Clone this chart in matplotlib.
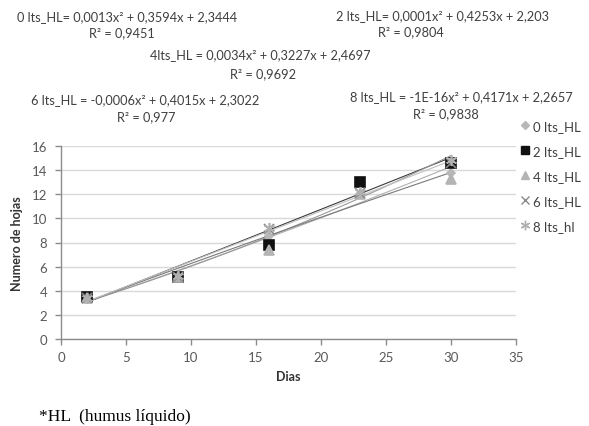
import numpy as np
import matplotlib
matplotlib.use("Agg")
import matplotlib.pyplot as plt
from matplotlib.lines import Line2D

plt.rcParams['font.family'] = ['Lato', 'DejaVu Sans']

# Days of measurement
dias = [2, 9, 16, 23, 30]

# Number of leaves per treatment
series_names = ["0 lts_HL", "2 lts_HL", "4 lts_HL", "6 lts_HL", "8 lts_hl"]
hojas_0 = [3.5, 5.2, 8.5, 12.0, 13.8]
hojas_2 = [3.5, 5.1, 7.8, 13.0, 14.6]
hojas_4 = [3.4, 5.1, 7.4, 12.0, 13.3]
hojas_6 = [3.4, 5.1, 9.1, 12.1, 14.6]
hojas_8 = [3.4, 5.2, 9.2, 12.2, 14.8]

# Polynomial (order 2) trend coefficients: a*x^2 + b*x + c
coef_0 = [0.0013, 0.3594, 2.3444]
coef_2 = [0.0001, 0.4253, 2.203]
coef_4 = [0.0034, 0.3227, 2.4697]
coef_6 = [-0.0006, 0.4015, 2.3022]
coef_8 = [-1e-16, 0.4171, 2.2657]

# Trend equation labels
eq_labels = [
    ("0 lts_HL= 0,0013x² + 0,3594x + 2,3444", "R² = 0,9451"),
    ("2 lts_HL= 0,0001x² + 0,4253x + 2,203", "R² = 0,9804"),
    ("4lts_HL = 0,0034x² + 0,3227x + 2,4697", "R² = 0,9692"),
    ("6 lts_HL = -0,0006x² + 0,4015x + 2,3022", "R² = 0,977"),
    ("8 lts_HL = -1E-16x² + 0,4171x + 2,2657", "R² = 0,9838"),
]

W, H = 589, 427
fig = plt.figure(figsize=(W / 100, H / 100), dpi=100)

def fx(px):
    return px / W

def fy(py):
    return 1 - py / H

ax = fig.add_axes([fx(61), fy(340), fx(516) - fx(61), fy(147) - fy(340)])

all_vals = [hojas_0, hojas_2, hojas_4, hojas_6, hojas_8]
all_coefs = [coef_0, coef_2, coef_4, coef_6, coef_8]
markers = ["D", "s", "^", "x", (6, 2, 0)]
msizes = [4.5, 7.5, 6.5, 7, 8]
mcolors = ["#b8b8b8", "#111111", "#b4b4b4", "#8a8a8a", "#b0b0b0"]
lcolors = ["#b0b0b0", "#3a3a3a", "#9a9a9a", "#7a7a7a", "#c0c0c0"]

xfit = np.linspace(min(dias), max(dias), 100)
handles = []
for k, (vals, coef, mk, ms, mc, lc, name) in enumerate(
        zip(all_vals, all_coefs, markers, msizes, mcolors, lcolors, series_names)):
    ax.plot(xfit, np.polyval(coef, xfit), color=lc, lw=0.8, zorder=2)
    ax.plot(dias, vals, linestyle="none", marker=mk, markersize=ms,
            color=mc, markeredgecolor=mc, markeredgewidth=1.2, zorder=3 + k)
    handles.append(Line2D([], [], linestyle="none", marker=mk,
                          markersize=ms * 0.85, color=mc, markeredgecolor=mc,
                          markeredgewidth=1.0, label=name))

ax.set_xlim(0, 35)
ax.set_ylim(0, 16)
ax.set_xticks(range(0, 36, 5))
ax.set_yticks(range(0, 17, 2))
ax.yaxis.grid(True, color="#d9d9d9", lw=1.0)
ax.set_axisbelow(True)
for s in ["top", "right"]:
    ax.spines[s].set_visible(False)
for s in ["left", "bottom"]:
    ax.spines[s].set_color("#8c8c8c")
    ax.spines[s].set_linewidth(1.0)
ax.tick_params(axis="both", colors="#8c8c8c", labelcolor="#595959",
               labelsize=9.5, length=4, width=1.0)
ax.tick_params(axis="y", pad=6)
ax.tick_params(axis="x", pad=5)

ax.set_xlabel("Dias", fontsize=9, fontweight="bold", color="#333333", labelpad=5)
ax.set_ylabel("Numero de hojas", fontsize=9, fontweight="bold", color="#333333",
              labelpad=6)

leg = fig.legend(handles=handles, loc="upper left",
                 bbox_to_anchor=(fx(518), fy(121)), frameon=False,
                 fontsize=9.5, labelspacing=0.98, handletextpad=0.1,
                 handlelength=1.0, borderaxespad=0, borderpad=0)
for t in leg.get_texts():
    t.set_color("#404040")

# Trend equation annotations (center x, y) for equation and R² lines
eq_pos = [((127, 17), (122, 33)),
          ((442, 16), (411, 32)),
          ((260, 55), (263, 74)),
          ((145, 100), (146, 117)),
          ((461, 97), (446, 114))]
for (eq, r2), ((ex, ey), (rx, ry)) in zip(eq_labels, eq_pos):
    fig.text(fx(ex), fy(ey), eq, ha="center", va="center", fontsize=9.2,
             color="#404040")
    fig.text(fx(rx), fy(ry), r2, ha="center", va="center", fontsize=9.2,
             color="#404040")

fig.text(fx(39), fy(417), "*HL  (humus líquido)", ha="left", va="center",
         fontsize=12.5, family=["Liberation Serif", "DejaVu Serif"],
         color="#000000")

fig.savefig("out.png", dpi=100)
